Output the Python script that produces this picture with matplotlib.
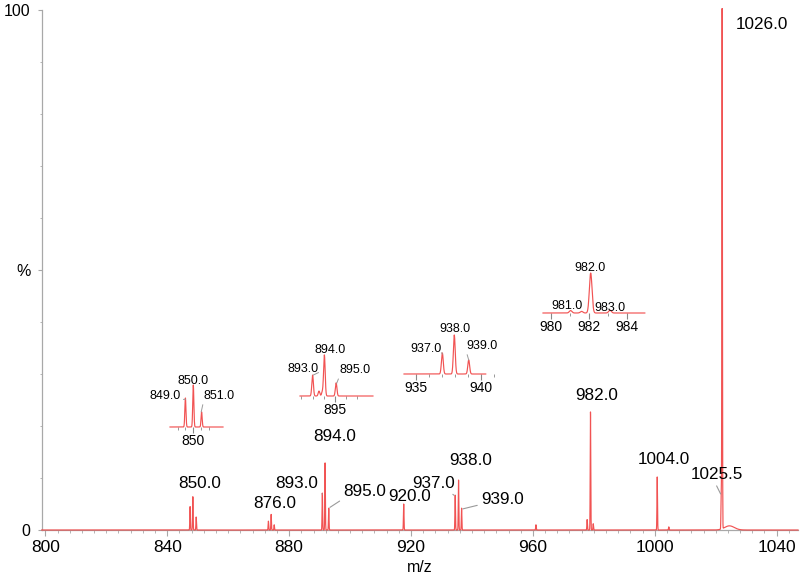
import numpy as np
import matplotlib
matplotlib.use("Agg")
import matplotlib.pyplot as plt
from matplotlib.ticker import MultipleLocator, FixedLocator

plt.rcParams["font.family"] = ["Liberation Sans", "DejaVu Sans"]

LINE_RED = "#f04040"
AXIS_GRAY = "#a8a8a8"
LEADER_GRAY = "#9a9a9a"

# main spectrum: peak centres, relative intensity (%)
peak_mz = [847.5, 848.4, 849.5, 873.2, 874.1, 875.1, 890.9, 891.8, 893.0,
           917.6, 934.5, 935.6, 936.6, 961.0, 977.8, 978.9, 979.8,
           1000.8, 1004.6, 1021.8, 1022.1]
peak_int = [4.5, 6.4, 2.5, 1.7, 3.0, 1.0, 7.1, 12.9, 4.2,
            5.0, 6.7, 9.6, 4.2, 1.0, 2.0, 22.7, 1.2,
            10.2, 0.6, 7.0, 100.0]
hump_mz, hump_int, hump_w = 1024.5, 0.8, 1.6

# peak labels on the main spectrum: text, label position (m/z, %)
labels_txt = ["850.0", "876.0", "893.0", "894.0", "895.0", "920.0", "937.0",
              "938.0", "939.0", "982.0", "1004.0", "1025.5", "1026.0"]
labels_x = [850.5, 875.3, 882.5, 895.0, 904.9, 919.7, 927.3, 939.6, 950.1,
            981.0, 1003.0, 1020.5, 1035.3]
labels_y = [9.0, 5.0, 9.0, 17.9, 7.5, 6.4, 9.0, 13.3, 5.8, 25.8, 13.6, 10.7, 97.3]
# leader lines: target point and where on the label they start (relpos)
leader_to = {"893.0": ((890.9, 6.9), (1.0, 0.0)),
             "895.0": ((893.0, 4.2), (0.0, 0.0)),
             "937.0": ((934.5, 6.5), (0.85, 0.0)),
             "939.0": ((936.6, 4.0), (0.0, 0.2)),
             "1025.5": ((1021.8, 6.7), (0.45, 0.0))}

# insets: (xlim, rect px [x0, baseline, w, h], peaks, heights, labels, ticks)
insets = [
    dict(xlim=(847.05, 853.76), rect=(170, 427, 53, 42), data_end=853.76,
         mz=[849.0, 850.0, 851.05], inten=[69, 100, 36],
         labels=[("849.0", 846.42, 74, (849.0, 66), (1.0, 0.2)),
                 ("850.0", 849.96, 110, None, None),
                 ("851.0", 853.25, 74, (851.0, 36), (0.0, 0.0))],
         major=[850], minor=[848, 849, 851, 852]),
    dict(xlim=(891.875, 898.39), rect=(300, 396, 73, 41), data_end=898.39,
         mz=[893.0, 893.57, 893.87, 894.05, 895.1], inten=[51, 12, 10, 100, 32],
         labels=[("893.0", 892.14, 66, (893.05, 51), (1.0, 0.2)),
                 ("894.0", 894.55, 112, None, None),
                 ("895.0", 896.79, 63, (895.15, 31), (0.0, 0.0))],
         major=[895], minor=[892, 893, 894, 896, 897]),
    dict(xlim=(934.1, 941.18), rect=(404, 374, 92, 39), data_end=940.4,
         mz=[937.05, 937.97, 939.08], inten=[54, 100, 36],
         labels=[("937.0", 935.8, 64, (937.05, 51), (1.0, 0.2)),
                 ("938.0", 938.02, 115, None, None),
                 ("939.0", 940.1, 72, (939.08, 36), (0.0, 0.0))],
         major=[935, 940], minor=[936, 937, 938, 939, 941]),
    dict(xlim=(979.58, 984.97), rect=(543, 313, 102, 40), data_end=984.97,
         mz=[981.04, 981.62, 982.1, 983.12], inten=[6, 4, 100, 7],
         labels=[("981.0", 980.86, 18, None, None),
                 ("982.0", 982.07, 112, None, None),
                 ("983.0", 983.13, 13, None, None)],
         major=[980, 982, 984], minor=[981, 983]),
]


def profile(x, centres, heights, sigma):
    y = np.zeros_like(x)
    for c, h in zip(centres, heights):
        y += h * np.exp(-0.5 * ((x - c) / sigma) ** 2)
    return y


W, H = 800, 583
fig = plt.figure(figsize=(W / 100, H / 100), dpi=100)
ax = fig.add_axes([41.7 / W, 53 / H, (798 - 41.7) / W, 520 / H])

x = np.arange(798.8, 1047.0, 0.02)
y = profile(x, peak_mz, peak_int, 0.09)
y += hump_int * np.exp(-0.5 * ((x - hump_mz) / hump_w) ** 2)
ax.plot(x, y, color=LINE_RED, lw=0.85, alpha=0.9, clip_on=False, zorder=3)

ax.set_xlim(798.8, 1047)
ax.set_ylim(0, 100)
for s in ["top", "right"]:
    ax.spines[s].set_visible(False)
for s in ["left", "bottom"]:
    ax.spines[s].set_color(AXIS_GRAY)
    ax.spines[s].set_linewidth(0.9)
ax.spines["bottom"].set_zorder(0)

ax.xaxis.set_major_locator(MultipleLocator(40))
ax.xaxis.set_minor_locator(MultipleLocator(4))
ax.set_yticks([0, 50, 100])
ax.set_yticklabels(["0", "%", "100"])
ax.yaxis.set_minor_locator(MultipleLocator(10))
ax.tick_params(axis="x", which="major", length=4, color=AXIS_GRAY, labelsize=12.5, pad=3)
ax.tick_params(axis="x", which="minor", length=2.5, color=AXIS_GRAY)
ax.tick_params(axis="y", which="major", length=3, color=AXIS_GRAY, labelsize=11.5, pad=5)
ax.tick_params(axis="y", which="minor", length=1.5, color=AXIS_GRAY)
ax.set_xlabel("m/z", fontsize=11.5, labelpad=4)

for txt, lx, ly in zip(labels_txt, labels_x, labels_y):
    if txt in leader_to:
        tgt, rp = leader_to[txt]
        ax.annotate(txt, xy=tgt, xytext=(lx, ly), ha="center", va="center",
                    fontsize=12.3,
                    arrowprops=dict(arrowstyle="-", color=LEADER_GRAY, lw=0.8,
                                    relpos=rp, shrinkA=1, shrinkB=1))
    else:
        ax.text(lx, ly, txt, ha="center", va="center", fontsize=12.3)

for ins in insets:
    x0, base, w, h = ins["rect"]
    iax = fig.add_axes([x0 / W, (H - base) / H, w / W, h / H])
    iax.patch.set_alpha(0)
    xi = np.arange(ins["xlim"][0], ins["data_end"], 0.01)
    yi = profile(xi, ins["mz"], ins["inten"], 0.07)
    iax.plot(xi, yi, color=LINE_RED, lw=0.85, alpha=0.9, clip_on=False, zorder=3)
    iax.set_xlim(*ins["xlim"])
    iax.set_ylim(0, 100)
    for s in iax.spines.values():
        s.set_visible(False)
    iax.set_yticks([])
    iax.xaxis.set_major_locator(FixedLocator(ins["major"]))
    iax.xaxis.set_minor_locator(FixedLocator(ins["minor"]))
    iax.tick_params(axis="x", which="major", length=4, color="#888888",
                    labelsize=10, pad=1)
    iax.tick_params(axis="x", which="minor", length=2.5, color="#888888")
    for txt, lx, ly, tgt, rp in ins["labels"]:
        if tgt is None:
            iax.text(lx, ly, txt, ha="center", va="center", fontsize=9,
                     clip_on=False)
        else:
            iax.annotate(txt, xy=tgt, xytext=(lx, ly), ha="center", va="center",
                         fontsize=9, annotation_clip=False,
                         arrowprops=dict(arrowstyle="-", color=LEADER_GRAY, lw=0.7,
                                         relpos=rp, shrinkA=0, shrinkB=0))

fig.savefig("out.png", dpi=100)
